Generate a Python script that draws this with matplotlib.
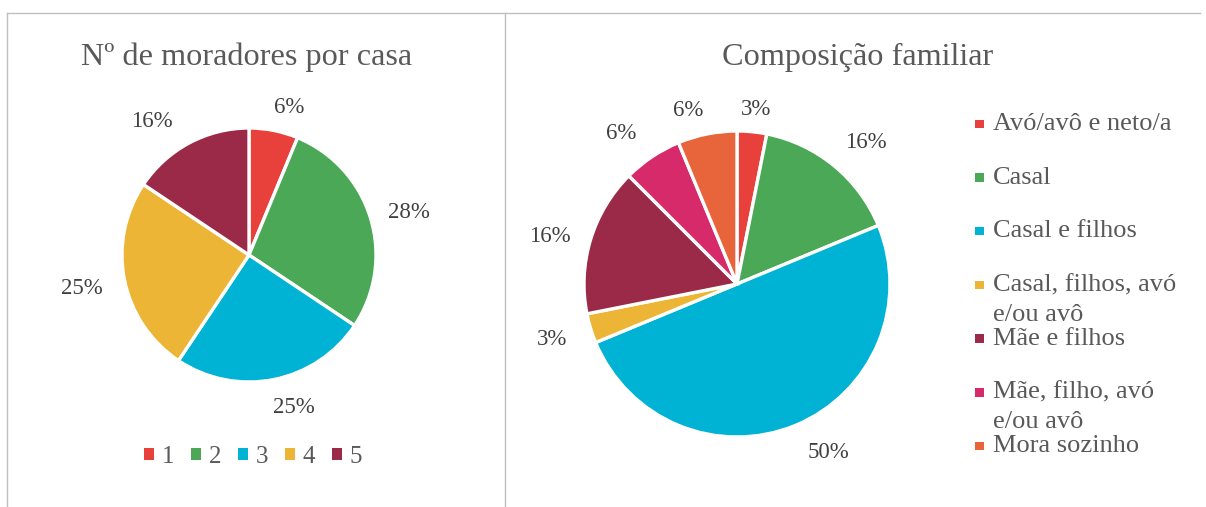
import matplotlib
matplotlib.use("Agg")
import matplotlib.pyplot as plt
import numpy as np
from matplotlib.lines import Line2D
from matplotlib.patches import Rectangle

plt.rcParams['font.family'] = ['Liberation Serif', 'DejaVu Serif']

# ---- data ----
left_title = "Nº de moradores por casa"
left_cats = ["1", "2", "3", "4", "5"]
left_counts = [2, 9, 8, 8, 5]
left_labels = ["6%", "28%", "25%", "25%", "16%"]
left_colors = ["#E8403A", "#4BA856", "#00B2D3", "#EDB535", "#9B2A48"]

right_title = "Composição familiar"
right_cats = ["Avó/avô e neto/a", "Casal", "Casal e filhos",
              "Casal, filhos, avó\ne/ou avô", "Mãe e filhos",
              "Mãe, filho, avó\ne/ou avô", "Mora sozinho"]
right_counts = [1, 5, 16, 1, 5, 2, 2]
right_labels = ["3%", "16%", "50%", "3%", "16%", "6%", "6%"]
right_colors = ["#E8403A", "#4BA856", "#00B2D3", "#EDB535", "#9B2A48",
                "#D72A6A", "#E8643A"]

W, H = 1206, 507
fig = plt.figure(figsize=(W / 100, H / 100), dpi=100)
fig.patch.set_facecolor("white")

def px_axes(cx, cy, r):
    return fig.add_axes([(cx - r) / W, (H - cy - r) / H, 2 * r / W, 2 * r / H])

label_color = "#404040"
text_color = "#595959"

def draw_pie(ax, counts, colors, labels, placement):
    wedges, _ = ax.pie(counts, colors=colors, startangle=90, counterclock=False,
                       wedgeprops=dict(edgecolor="white", linewidth=2.4))
    for w, lab, (d, off) in zip(wedges, labels, placement):
        ang = np.deg2rad((w.theta1 + w.theta2) / 2 + off)
        ax.text(d * np.cos(ang), d * np.sin(ang), lab, ha="center", va="center",
                fontsize=16.5, color=label_color)
    ax.set_xlim(-1, 1)
    ax.set_ylim(-1, 1)
    ax.set_aspect("equal")
    ax.axis("off")

# label placement: (distance in radii, angular offset in degrees)
left_place = [(1.20, -4), (1.30, -2), (1.25, 5), (1.34, 0), (1.30, 8)]
right_place = [(1.15, -0.6), (1.25, -3), (1.25, 6), (1.26, 0), (1.26, 2.5), (1.24, 4), (1.18, 4.5)]

axL = px_axes(249, 255, 127)
draw_pie(axL, left_counts, left_colors, left_labels, left_place)

axR = px_axes(737, 284, 153)
draw_pie(axR, right_counts, right_colors, right_labels, right_place)

# titles
fig.text(247 / W, 1 - 57 / H, left_title, ha="center", va="center",
         fontsize=23.2, color=text_color)
fig.text(858 / W, 1 - 57 / H, right_title, ha="center", va="center",
         fontsize=23.2, color=text_color)

# left legend
handles = [Rectangle((0, 0), 1, 1, facecolor=c, edgecolor="none") for c in left_colors]
leg = fig.legend(handles, left_cats, loc="center", bbox_to_anchor=(253 / W, 1 - 457 / H),
                 ncol=5, frameon=False, fontsize=18, handlelength=0.4, handleheight=0.4,
                 handletextpad=0.3, columnspacing=0.68, labelcolor=text_color)

# right legend (manual)
y0, step, lh = 124, 53.7, 30
for i, (cat, col) in enumerate(zip(right_cats, right_colors)):
    y = y0 + i * step
    fig.patches.append(Rectangle((975 / W, 1 - (y + 4) / H), 8.5 / W, 8.5 / H,
                                 facecolor=col, edgecolor="none",
                                 transform=fig.transFigure, figure=fig))
    for j, line in enumerate(cat.split("\n")):
        fig.text(993 / W, 1 - (y + j * lh) / H, line, ha="left", va="center",
                 fontsize=19, color=text_color)

# frame lines
lc = "#C0C0C0"
fig.add_artist(Line2D([7 / W, 1200 / W], [1 - 12.5 / H, 1 - 12.5 / H], color=lc, lw=1.0))
fig.add_artist(Line2D([7 / W, 7 / W], [1 - 12.5 / H, 0], color=lc, lw=1.0))
fig.add_artist(Line2D([505 / W, 505 / W], [1 - 12.5 / H, 0], color=lc, lw=1.0))

fig.savefig("out.png", dpi=100, facecolor="white")
